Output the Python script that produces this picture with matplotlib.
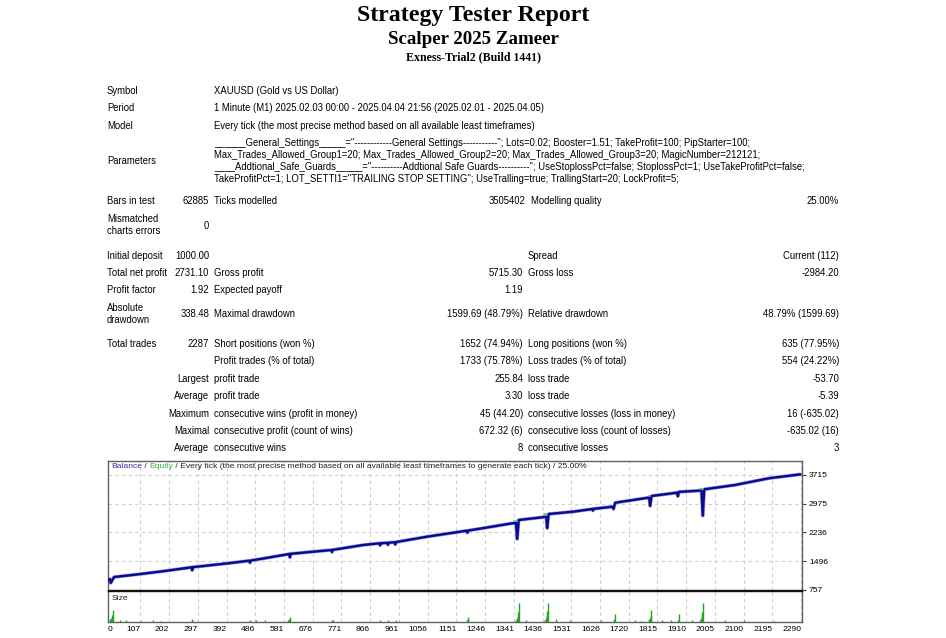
import matplotlib
matplotlib.use("Agg")
import matplotlib.pyplot as plt

W, H = 946, 638
FONT = "Liberation Sans"
FS = 6.85
FS_SMALL = 6.1

# ---------------- report text ----------------
title_lines = ["Strategy Tester Report", "Scalper 2025 Zameer", "Exness-Trial2 (Build 1441)"]

info_labels = ["Symbol", "Period", "Model"]
info_values = ["XAUUSD (Gold vs US Dollar)",
               "1 Minute (M1) 2025.02.03 00:00 - 2025.04.04 21:56 (2025.02.01 - 2025.04.05)",
               "Every tick (the most precise method based on all available least timeframes)"]

param_lines = [
    '______General_Settings_____="------------General Settings-----------"; Lots=0.02; Booster=1.51; TakeProfit=100; PipStarter=100;',
    'Max_Trades_Allowed_Group1=20; Max_Trades_Allowed_Group2=20; Max_Trades_Allowed_Group3=20; MagicNumber=212121;',
    '____Addtional_Safe_Guards_____="----------Addtional Safe Guards----------"; UseStoplossPct=false; StoplossPct=1; UseTakeProfitPct=false;',
    'TakeProfitPct=1; LOT_SETTI1="TRAILING STOP SETTING"; UseTralling=true; TrallingStart=20; LockProfit=5;',
]

# stat rows: (label, value, label, value, label, value)
stat_rows = [
    ("Initial deposit", "1000.00", "", "", "Spread", "Current (112)"),
    ("Total net profit", "2731.10", "Gross profit", "5715.30", "Gross loss", "-2984.20"),
    ("Profit factor", "1.92", "Expected payoff", "1.19", "", ""),
    ("Absolute\ndrawdown", "338.48", "Maximal drawdown", "1599.69 (48.79%)", "Relative drawdown", "48.79% (1599.69)"),
    ("Total trades", "2287", "Short positions (won %)", "1652 (74.94%)", "Long positions (won %)", "635 (77.95%)"),
    ("", "", "Profit trades (% of total)", "1733 (75.78%)", "Loss trades (% of total)", "554 (24.22%)"),
]
# rows whose first column is right-aligned
stat_rows_r = [
    ("Largest", "profit trade", "255.84", "loss trade", "-53.70"),
    ("Average", "profit trade", "3.30", "loss trade", "-5.39"),
    ("Maximum", "consecutive wins (profit in money)", "45 (44.20)", "consecutive losses (loss in money)", "16 (-635.02)"),
    ("Maximal", "consecutive profit (count of wins)", "672.32 (6)", "consecutive loss (count of losses)", "-635.02 (16)"),
    ("Average", "consecutive wins", "8", "consecutive losses", "3"),
]

# ---------------- chart data ----------------
bal_trades = [0, 6, 9, 20, 99, 188, 276, 278, 281, 397, 467, 469, 472, 509, 599, 601, 604,
              738, 740, 743, 843, 897, 899, 902, 923, 925, 928, 947, 949, 952, 1054, 1185,
              1187, 1190, 1335, 1348, 1352, 1357, 1434, 1448, 1451, 1456, 1537, 1600, 1602,
              1605, 1667, 1670, 1676, 1785, 1788, 1791, 1796, 1880, 1883, 1886, 1950, 1961,
              1965, 1970, 2072, 2183, 2287]
bal_values = [1000, 1040, 940, 1090, 1160, 1246, 1341, 1265, 1345, 1444, 1511, 1459, 1515,
              1562, 1683, 1598, 1688, 1786, 1734, 1790, 1914, 1958, 1907, 1960, 1970, 1920,
              1975, 1985, 1930, 1990, 2128, 2282, 2230, 2285, 2472, 2480, 2070, 2557, 2627,
              2640, 2350, 2712, 2771, 2840, 2800, 2845, 2899, 2841, 3002, 3131, 3140, 2920,
              3175, 3260, 3170, 3280, 3311, 3320, 2670, 3347, 3458, 3630, 3731]

# equity only shows where it sits above the balance line, before the big dips
nan = float("nan")
eq_trades = [1340, 1352, nan, 1440, 1451, nan, 1786, 1791, nan, 1955, 1965]
eq_values = [2540, 2540, nan, 2712, 2712, nan, 3165, 3165, nan, 3345, 3345]

size_trades = [5, 8, 11, 14, 17, 40, 60, 110, 150, 172, 276, 278, 470, 490, 520, 596, 598,
               601, 740, 742, 900, 925, 950, 1186, 1188, 1190,
               1346, 1348, 1350, 1352, 1354, 1356, 1358, 1380,
               1440, 1443, 1446, 1448, 1450, 1452, 1454, 1480, 1525,
               1630, 1673, 1675, 1740, 1760, 1786, 1789, 1791, 1793, 1795, 1830, 1860,
               1884, 1887, 1930, 1955, 1958, 1960, 1962, 1964, 1966, 2040, 2100, 2200]
size_lots = [0.03, 0.05, 0.08, 0.13, 0.23, 0.03, 0.04, 0.02, 0.03, 0.02, 0.04, 0.06, 0.03,
             0.03, 0.03, 0.03, 0.06, 0.1, 0.03, 0.04, 0.03, 0.04, 0.03, 0.03, 0.06, 0.1,
             0.02, 0.03, 0.05, 0.08, 0.12, 0.2, 0.37, 0.03,
             0.02, 0.03, 0.05, 0.08, 0.13, 0.22, 0.37, 0.05, 0.03,
             0.03, 0.05, 0.15, 0.03, 0.02, 0.03, 0.05, 0.08, 0.13, 0.23, 0.03, 0.03,
             0.03, 0.15, 0.03, 0.03, 0.05, 0.08, 0.13, 0.2, 0.37, 0.03, 0.03, 0.02]

xtick_vals = [0, 107, 202, 297, 392, 486, 581, 676, 771, 866, 961, 1056, 1151, 1246, 1341,
              1436, 1531, 1626, 1720, 1815, 1910, 2005, 2100, 2195, 2290]
ytick_vals = [757, 1496, 2236, 2975, 3715]


# ---------------- helpers ----------------
fig = plt.figure(figsize=(W / 100, H / 100), dpi=100)
fig.patch.set_facecolor("white")


def put(x, y, s, ha="left", **kw):
    kw.setdefault("fontsize", FS)
    kw.setdefault("family", FONT)
    kw.setdefault("color", "#000000")
    return fig.text(x / W, 1 - y / H, s, ha=ha, va="center", **kw)


# titles
put(473, 15, title_lines[0], ha="center", family="Liberation Serif", fontsize=17.2, weight="bold")
put(473, 39, title_lines[1], ha="center", family="Liberation Serif", fontsize=13.6, weight="bold")
put(473, 57, title_lines[2], ha="center", family="Liberation Serif", fontsize=8.6, weight="bold")

C1, C2, C3, C4, C5, C6 = 107, 209, 214, 523, 528, 839

for lab, val, y in zip(info_labels, info_values, [91, 108, 126]):
    put(C1, y, lab)
    put(C3, y, val)

put(C1, 161, "Parameters")
for line, y in zip(param_lines, [143, 155, 167, 179]):
    put(C3, y, line)

put(C1, 201, "Bars in test")
put(C2, 201, "62885", ha="right")
put(C3, 201, "Ticks modelled")
put(525, 201, "3505402", ha="right")
put(531, 201, "Modelling quality")
put(C6, 201, "25.00%", ha="right")
put(C1, 225, "Mismatched\ncharts errors", linespacing=1.3)
put(C2, 226, "0", ha="right")

for row, y in zip(stat_rows, [256, 273, 290, 314, 344, 361]):
    a, b, c, d, e, f = row
    put(C1, y, a, linespacing=1.3)
    put(C2, y, b, ha="right")
    put(C3, y, c)
    put(C4, y, d, ha="right")
    put(C5, y, e)
    put(C6, y, f, ha="right")

for row, y in zip(stat_rows_r, [379, 396, 414, 431, 448]):
    a, c, d, e, f = row
    put(C2, y, a, ha="right")
    put(C3, y, c)
    put(C4, y, d, ha="right")
    put(C5, y, e)
    put(C6, y, f, ha="right")

# ---------------- chart ----------------
L, R = 108, 802
ax = fig.add_axes([L / W, 1 - 590 / H, (R - L) / W, 129 / H])
axs = fig.add_axes([L / W, 1 - 622 / H, (R - L) / W, 31 / H])
XMAX = 2293

grid_kw = dict(color="#cfcfcf", lw=0.8, ls=(0, (3, 3)))
for a in (ax, axs):
    a.set_xlim(0, XMAX)
    for xv in xtick_vals[1:]:
        a.axvline(xv, zorder=0, **grid_kw)
for yv in ytick_vals[1:]:
    ax.axhline(yv, zorder=0, **grid_kw)

ax.plot(bal_trades, bal_values, color="#9a9ae8", lw=2.6, zorder=2,
        solid_joinstyle="round", solid_capstyle="round")
ax.plot(bal_trades, bal_values, color="#0a0a8c", lw=1.7, zorder=3,
        solid_joinstyle="round")
ax.plot(eq_trades, eq_values, color="#5cc05c", lw=1.1, zorder=4)
ax.set_ylim(757, 4075)
ax.set_xticks([])
ax.yaxis.tick_right()
ax.set_yticks(ytick_vals)
ax.set_yticklabels([str(v) for v in ytick_vals], family=FONT, fontsize=FS_SMALL)
ax.tick_params(axis="y", length=3, width=0.8, pad=2, color="#404040")

for s in ("left", "top", "right"):
    ax.spines[s].set_color("#606060")
    ax.spines[s].set_linewidth(1.0)
ax.spines["bottom"].set_color("#101010")
ax.spines["bottom"].set_linewidth(1.0)

axs.vlines(size_trades, 0, size_lots, color="#1fa81f", lw=1.0)
axs.set_ylim(0, 0.6)
axs.set_yticks([])
axs.set_xticks(xtick_vals)
axs.set_xticklabels([str(v) for v in xtick_vals], family=FONT, fontsize=FS_SMALL)
axs.tick_params(axis="x", length=0, pad=3)
xlabels = axs.get_xticklabels()
xlabels[0].set_ha("left")
for lbl in xlabels[1:]:
    lbl.set_ha("right")
for s in ("left", "bottom", "right"):
    axs.spines[s].set_color("#606060")
    axs.spines[s].set_linewidth(1.0)
axs.spines["top"].set_color("#101010")
axs.spines["top"].set_linewidth(1.0)
axs.text(0.005, 0.75, "Size", transform=axs.transAxes, ha="left", va="center",
         family=FONT, fontsize=FS_SMALL, color="#202020")

# legend line inside the balance chart
renderer = fig.canvas.get_renderer()
segments = [("Balance", "#3434a8"), (" / ", "#202020"), ("Equity", "#3cb43c"),
            (" / Every tick (the most precise method based on all available least timeframes to generate each tick) / 25.00%", "#202020")]
x = 111
for txt, col in segments:
    t = put(x, 467, txt, color=col, fontsize=FS_SMALL)
    bb = t.get_window_extent(renderer=renderer)
    x += bb.width

fig.savefig("out.png", dpi=100)
